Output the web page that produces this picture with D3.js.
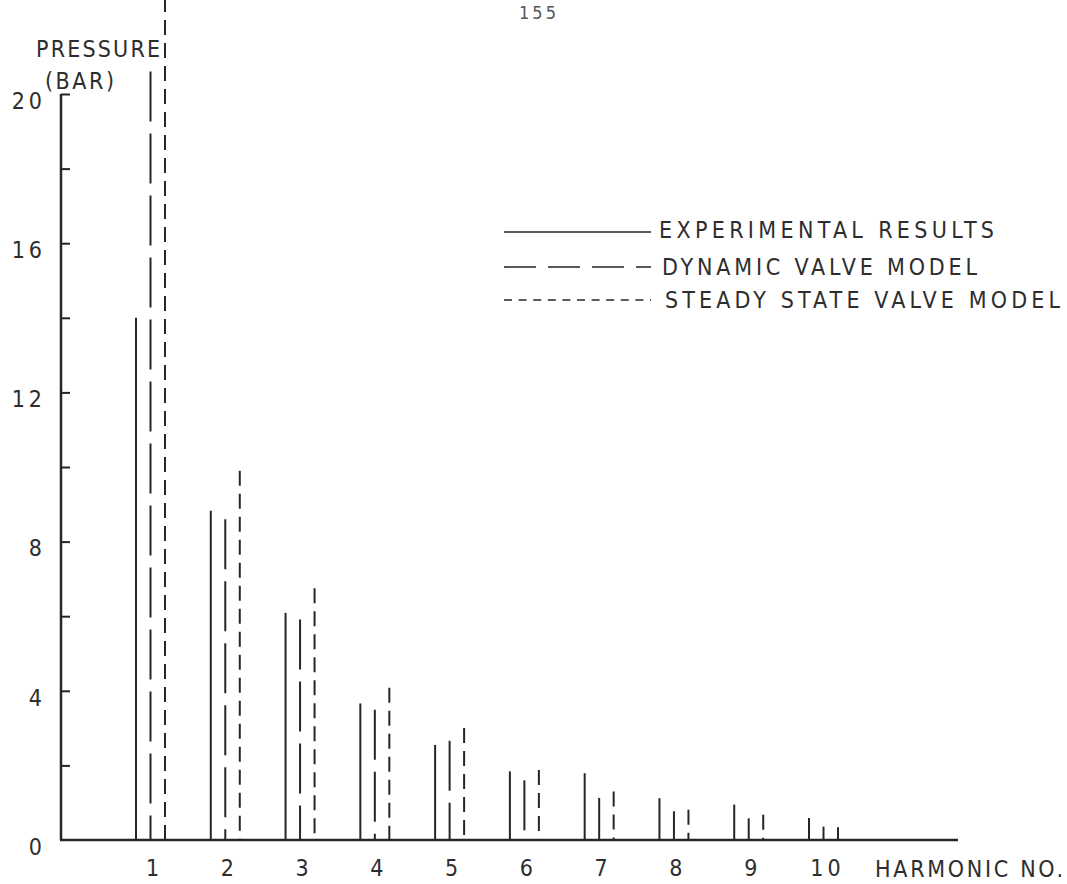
<!DOCTYPE html>
<html>
<head>
<meta charset="utf-8">
<script src="https://cdn.jsdelivr.net/npm/d3@7"></script>
<style>
  body { margin: 0; background: #fff; }
  svg { display: block; }
  text { font-family: 'Liberation Sans Narrow', 'DejaVu Sans Condensed', 'Liberation Sans', sans-serif; fill: #2e2e2e; }
</style>
</head>
<body>
<svg id="chart" width="1067" height="884"></svg>
<script>
// Harmonic pressure amplitudes (bar)
const harmonics = [1, 2, 3, 4, 5, 6, 7, 8, 9, 10];
const experimental = [14.0, 8.83, 6.09, 3.66, 2.55, 1.84, 1.79, 1.12, 0.95, 0.59];
const dynamicModel = [20.6, 8.6, 5.91, 3.49, 2.66, 1.6, 1.13, 0.77, 0.58, 0.36];
const steadyModel  = [22.6, 9.9, 6.75, 4.08, 3.0, 1.88, 1.3, 0.81, 0.68, 0.34];

const seriesKeys   = ["experimental", "dynamic", "steady"];
const seriesLabels = ["EXPERIMENTAL RESULTS", "DYNAMIC  VALVE MODEL", "STEADY  STATE VALVE MODEL"];
const yLabelTicks  = [0, 4, 8, 12, 16, 20];
const yMinorTicks  = [2, 4, 6, 8, 10, 12, 14, 16, 18, 20];

const seriesValues = { experimental: experimental, dynamic: dynamicModel, steady: steadyModel };
const barDash    = { experimental: null, dynamic: "50,12", steady: "15,8" };
const legendDash = { experimental: null, dynamic: "32,12", steady: "8,6.6" };

const svg = d3.select("#chart");
const ink = "#262626";
const tickFont = "'Liberation Sans Narrow', 'DejaVu Sans Condensed', sans-serif";

// scales
const axisLeftX = 61, axisRightX = 958;
const x = d3.scaleLinear().domain([1, 10]).range([150, 823]);
const y = d3.scaleLinear().domain([0, 20]).range([840, 94]);
const offset = d3.scalePoint().domain(seriesKeys).range([-14, 15]);

// page number at the top edge
svg.append("text").attr("x", 539).attr("y", 19).attr("text-anchor", "middle")
  .style("font-size", "18px").style("letter-spacing", "3px").style("fill", "#555").text("155");

// y axis: minor tick marks pointing inward
const yTicks = svg.append("g").attr("transform", `translate(${axisLeftX},0)`)
  .call(d3.axisLeft(y).tickValues(yMinorTicks).tickSizeInner(-9).tickSizeOuter(0).tickFormat(""));
yTicks.select(".domain").remove();
yTicks.selectAll("line").attr("stroke", ink).attr("stroke-width", 2);

// y tick labels
const yLabels = svg.append("g").attr("transform", `translate(${axisLeftX},0)`)
  .call(d3.axisLeft(y).tickValues(yLabelTicks).tickSize(0).tickPadding(15));
yLabels.select(".domain").remove();
yLabels.selectAll("text")
  .attr("transform", "translate(0,7)")
  .style("font-size", "23px").style("letter-spacing", "4px")
  .style("font-family", tickFont)
  .attr("fill", "#2e2e2e");

// axis lines
svg.append("line").attr("x1", axisLeftX).attr("x2", axisLeftX)
  .attr("y1", y(20)).attr("y2", y(0)).attr("stroke", ink).attr("stroke-width", 2.5);
svg.append("line").attr("x1", axisLeftX - 1).attr("x2", axisRightX)
  .attr("y1", y(0)).attr("y2", y(0)).attr("stroke", ink).attr("stroke-width", 2.5);

// x tick labels
const xLabels = svg.append("g").attr("transform", `translate(4,${y(0)})`)
  .call(d3.axisBottom(x).tickValues(harmonics).tickSize(0).tickPadding(20).tickFormat(d3.format("d")));
xLabels.select(".domain").remove();
xLabels.selectAll("text")
  .style("font-size", "23px").style("letter-spacing", "4px")
  .style("font-family", tickFont)
  .attr("fill", "#2e2e2e");

// axis titles
svg.append("text").attr("x", 36).attr("y", 57).attr("textLength", 124).attr("lengthAdjust", "spacing")
  .style("font-size", "23px").text("PRESSURE");
svg.append("text").attr("x", 45).attr("y", 89).attr("textLength", 69).attr("lengthAdjust", "spacing")
  .style("font-size", "23px").text("(BAR)");
svg.append("text").attr("x", 875).attr("y", 877).attr("textLength", 188).attr("lengthAdjust", "spacing")
  .style("font-size", "23px").text("HARMONIC NO.");

// spectral lines, dashes laid out from the tip down to the baseline
seriesKeys.forEach(key => {
  svg.append("g").selectAll("line")
    .data(harmonics.map((h, i) => ({ h, v: seriesValues[key][i] })))
    .join("line")
    .attr("x1", d => x(d.h) + offset(key))
    .attr("x2", d => x(d.h) + offset(key))
    .attr("y1", d => y(d.v))
    .attr("y2", y(0))
    .attr("stroke", ink)
    .attr("stroke-width", 2)
    .attr("stroke-dasharray", barDash[key]);
});

// legend
const legendRowY = [232, 267, 300];
const legendTextBase = [238, 275, 308];
const legendTextX = [659, 662, 665];
const legendTextLen = [335, 315, 395];
seriesKeys.forEach((key, i) => {
  svg.append("line").attr("x1", 504).attr("x2", 651)
    .attr("y1", legendRowY[i]).attr("y2", legendRowY[i])
    .attr("stroke", ink).attr("stroke-width", 1.6)
    .attr("stroke-dasharray", legendDash[key]);
  svg.append("text").attr("x", legendTextX[i]).attr("y", legendTextBase[i])
    .attr("textLength", legendTextLen[i]).attr("lengthAdjust", "spacing")
    .style("font-size", "23px").text(seriesLabels[i]);
});
</script>
</body>
</html>
